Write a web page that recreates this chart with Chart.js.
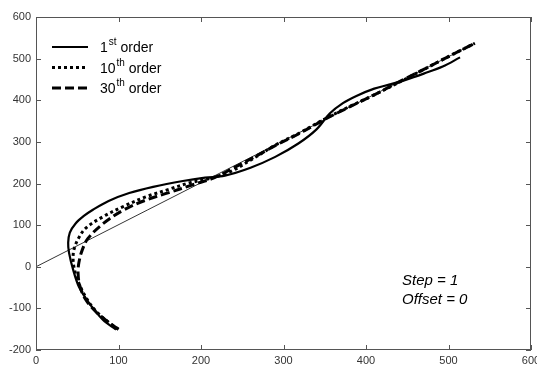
<!DOCTYPE html>
<html>
<head>
<meta charset="utf-8">
<script src="https://cdn.jsdelivr.net/npm/chart.js@4"></script>
<style>
  body { margin: 0; background: #fff; }
  canvas { display: block; }
</style>
</head>
<body>
<canvas id="myChart" width="537" height="365"></canvas>
<script>
// values
const xTicks = [0, 100, 200, 300, 400, 500, 600];
const yTicks = [-200, -100, 0, 100, 200, 300, 400, 500, 600];

const firstX = [97, 81, 64, 52, 45, 40, 39, 41, 48, 58, 69, 88, 113, 142, 178, 205, 229, 260, 290, 318, 340, 356, 372, 389, 410, 429, 448, 470, 493, 514];
const firstY = [-151, -127, -86, -48, -7, 34, 58, 82, 104, 122, 137, 158, 177, 192, 206, 214, 219, 238, 264, 296, 330, 368, 393, 411, 428, 438, 449, 464, 481, 503];

const tenthX = [100, 87, 72, 60, 51, 47, 45, 46, 52, 61, 81, 105, 133, 161, 185, 210, 235, 265, 290, 320, 350, 380, 410, 440, 470, 500, 532];
const tenthY = [-150, -132, -105, -72, -35, -10, 15, 41, 70, 94, 120, 144, 168, 186, 201, 212, 228, 262, 292, 322, 355, 385, 413, 443, 474, 505, 537];

const thirtiethX = [100, 87, 72, 60, 53, 51, 52, 56, 63, 81, 105, 133, 161, 190, 215, 240, 265, 290, 320, 350, 380, 410, 440, 470, 500, 530];
const thirtiethY = [-150, -132, -107, -78, -45, -15, 10, 40, 68, 103, 135, 160, 178, 197, 213, 238, 264, 291, 321, 354, 384, 413, 444, 474, 505, 535];

const refX = [0, 532];
const refY = [0, 537];

const legendLabels = [["1", "st", " order"], ["10", "th", " order"], ["30", "th", " order"]];
const noteLines = ["Step = 1", "Offset = 0"];

function toPoints(xs, ys) {
  return xs.map((x, i) => ({ x: x, y: ys[i] }));
}

const styles = [
  { borderWidth: 2.2, borderDash: [] },
  { borderWidth: 3, borderDash: [3, 3] },
  { borderWidth: 3, borderDash: [9, 4] },
];

const framePlugin = {
  id: "frame",
  afterDraw(chart) {
    const c = chart.ctx;
    const a = chart.chartArea;
    const xs = chart.scales.x;
    const ys = chart.scales.y;
    c.save();
    c.strokeStyle = "#555";
    c.lineWidth = 1;
    c.strokeRect(a.left + 0.5, a.top + 0.5, a.right - a.left - 1, a.bottom - a.top - 1);
    c.beginPath();
    xTicks.forEach((v) => {
      const px = Math.round(xs.getPixelForValue(v)) + 0.5;
      c.moveTo(px, a.bottom);
      c.lineTo(px, a.bottom - 5);
      c.moveTo(px, a.top);
      c.lineTo(px, a.top + 5);
    });
    yTicks.forEach((v) => {
      const py = Math.round(ys.getPixelForValue(v)) + 0.5;
      c.moveTo(a.left, py);
      c.lineTo(a.left + 5, py);
      c.moveTo(a.right, py);
      c.lineTo(a.right - 5, py);
    });
    c.stroke();

    // legend box contents
    c.fillStyle = "#000";
    c.strokeStyle = "#000";
    c.textBaseline = "alphabetic";
    legendLabels.forEach((parts, i) => {
      const y = 47 + i * 20.5;
      c.lineWidth = styles[i].borderWidth;
      c.setLineDash(styles[i].borderDash);
      c.beginPath();
      c.moveTo(52, y);
      c.lineTo(88, y);
      c.stroke();
      c.setLineDash([]);
      let x = 100;
      c.font = "14px Arial, 'Liberation Sans'";
      c.fillText(parts[0], x, y + 5);
      x += c.measureText(parts[0]).width + 1;
      c.font = "10px Arial, 'Liberation Sans'";
      c.fillText(parts[1], x, y - 2);
      x += c.measureText(parts[1]).width;
      c.font = "14px Arial, 'Liberation Sans'";
      c.fillText(parts[2], x, y + 5);
    });

    c.font = "italic 15px Arial, 'Liberation Sans'";
    c.textBaseline = "middle";
    noteLines.forEach((t, i) => {
      c.fillText(t, 402, 281 + i * 19);
    });
    c.restore();
  },
};

const ctx = document.getElementById("myChart");

new Chart(ctx, {
  type: "scatter",
  data: {
    datasets: [
      { data: toPoints(firstX, firstY), ...styles[0] },
      { data: toPoints(tenthX, tenthY), ...styles[1] },
      { data: toPoints(thirtiethX, thirtiethY), ...styles[2] },
      { data: toPoints(refX, refY), borderWidth: 0.8 },
    ].map((d) => ({
      ...d,
      showLine: true,
      borderColor: "#000",
      backgroundColor: "#000",
      pointRadius: 0,
      tension: 0.35,
      borderCapStyle: "butt",
    })),
  },
  options: {
    responsive: false,
    animation: false,
    layout: { padding: { left: 0, top: 17, right: 6, bottom: 0 } },
    plugins: { legend: { display: false }, tooltip: { enabled: false } },
    scales: {
      x: {
        type: "linear",
        min: 0,
        max: 600,
        afterBuildTicks: (s) => { s.ticks = xTicks.map((v) => ({ value: v })); },
        afterFit: (s) => { s.height = 15; s.paddingLeft = 0; s.paddingRight = 0; },
        grid: { display: false, drawTicks: false },
        border: { display: false },
        ticks: { padding: 4, color: "#333", font: { family: "Arial, 'Liberation Sans'", size: 11 }, maxRotation: 0 },
      },
      y: {
        type: "linear",
        min: -200,
        max: 600,
        afterBuildTicks: (s) => { s.ticks = yTicks.map((v) => ({ value: v })); },
        afterFit: (s) => { s.width = 36; s.paddingTop = 0; s.paddingBottom = 0; },
        grid: { display: false, drawTicks: false },
        border: { display: false },
        ticks: { padding: 5, color: "#333", font: { family: "Arial, 'Liberation Sans'", size: 11 } },
      },
    },
  },
  plugins: [framePlugin],
});
</script>
</body>
</html>
